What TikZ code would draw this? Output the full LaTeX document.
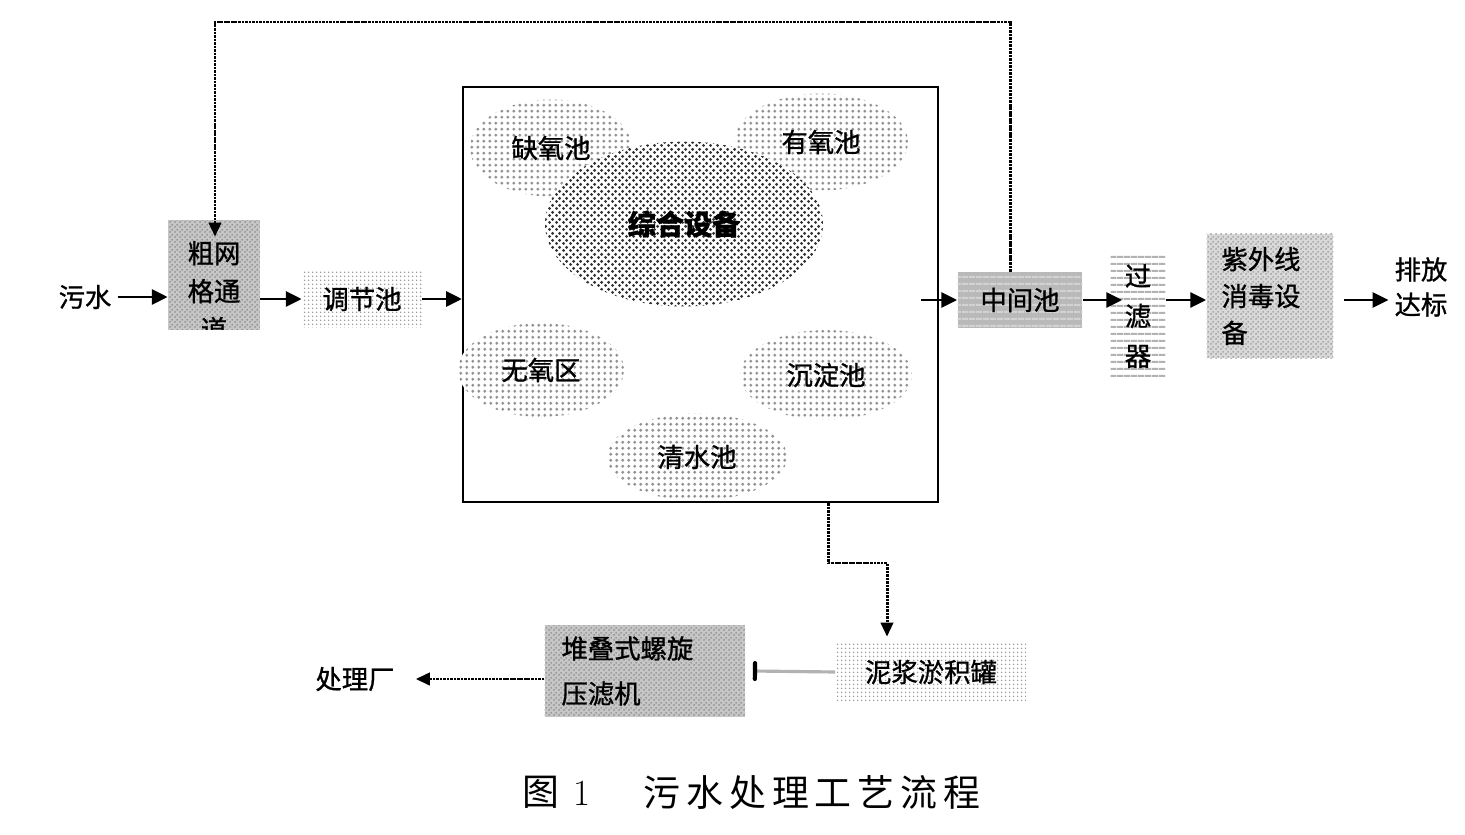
\documentclass[tikz,border=0pt]{standalone}
\usepackage{fontspec}
\newfontfamily\cjk{Noto Sans CJK SC}[FakeBold=1]
\newfontfamily\capcjk{Noto Sans CJK SC}[LetterSpace=16]
\usepackage{tikz}
\usetikzlibrary{positioning, arrows.meta, calc, patterns, patterns.meta, shapes.geometric}

\tikzdeclarepattern{
    name=pooldots,
    bounding box={(0pt,0pt) and (3.3pt,3.3pt)},
    tile size={(3.3pt,3.3pt)},
    code={\fill (1.65pt,1.65pt) circle (.95pt);}
}
\tikzdeclarepattern{
    name=coredots,
    bounding box={(0pt,0pt) and (4pt,4pt)},
    tile size={(4pt,4pt)},
    code={\fill (1pt,1pt) circle (1pt); \fill (3pt,3pt) circle (1pt);}
}
\tikzdeclarepattern{
    name=finegrid,
    bounding box={(0pt,0pt) and (2.3pt,2.3pt)},
    tile size={(2.3pt,2.3pt)},
    code={\fill (1.15pt,1.15pt) circle (.6pt);}
}
\tikzdeclarepattern{
    name=mesh,
    bounding box={(0pt,0pt) and (2.6pt,2.6pt)},
    tile size={(2.6pt,2.6pt)},
    code={\fill (.65pt,.65pt) circle (.6pt); \fill (1.95pt,1.95pt) circle (.6pt);}
}
\tikzdeclarepattern{
    name=rules,
    bounding box={(0pt,0pt) and (4pt,4pt)},
    tile size={(4pt,4pt)},
    code={\fill (0pt,1.4pt) rectangle (4pt,2.6pt);}
}

\tikzset{
    every node/.style={font=\cjk\fontsize{15}{20}\selectfont},
    gridbox/.style={rectangle, align=center, pattern=finegrid, pattern color=gray!75},
    meshbox/.style={rectangle, preaction={fill=gray!45}, pattern=mesh, pattern color=gray!90},
    midbox/.style={rectangle, preaction={fill=gray!55}, pattern=rules, pattern color=gray!35},
    rulebox/.style={rectangle, align=center, pattern=rules, pattern color=gray!60},
    uvbox/.style={rectangle, preaction={fill=gray!30}, pattern=mesh, pattern color=gray!80},
    pool/.style={ellipse, preaction={fill=white}, pattern=pooldots, pattern color=gray!85},
    core/.style={ellipse, preaction={fill=white}, pattern=coredots, pattern color=black!80},
    flow/.style={-{Triangle[length=9pt,width=8.5pt]}, line width=1.7pt},
    recycle/.style={-{Triangle[length=8pt,width=7pt]}, line width=1.7pt, dash pattern=on 1.5pt off .5pt}
}

\begin{document}
\begin{tikzpicture}[x=0.02cm, y=-0.02cm]
    \useasboundingbox (0,0) rectangle (1465,835);

    \node (sewage) at (85,297) {污水};
    \node[meshbox, minimum width=1.84cm, minimum height=2.2cm,
        path picture={\node[align=center, font=\cjk\fontsize{15}{21.6}\selectfont]
            at ([yshift=-0.32cm]path picture bounding box.center) {粗网\\格通\\道};}] (grid) at (214,275) {};
    \node[gridbox, minimum width=2.4cm, minimum height=1.14cm] (buffer) at (362,299) {调节池};
    \node[draw, line width=1.3pt, minimum width=9.5cm, minimum height=8.3cm] (tank) at (700.5,294.5) {};
    \node[pool, minimum width=3.24cm, minimum height=1.94cm] (anoxic) at (551,148) {缺氧池};
    \node[pool, minimum width=3.48cm, minimum height=1.94cm] (oxic) at (821,142) {有氧池};
    \node[core, minimum width=5.56cm, minimum height=3.3cm,
        font=\cjk\bfseries\fontsize{16}{20}\selectfont] (unit) at (684,224) {综合设备};
    \node[pool, minimum width=3.32cm, minimum height=1.88cm] (anaerobic) at (541,370) {无氧区};
    \node[pool, minimum width=3.44cm, minimum height=1.8cm] (settle) at (826,375) {沉淀池};
    \node[pool, minimum width=3.6cm, minimum height=1.74cm] (clear) at (697,457) {清水池};
    \node[midbox, minimum width=2.5cm, minimum height=1.12cm] (middle) at (1020,300) {中间池};
    \node[rulebox, minimum width=1.1cm, minimum height=2.56cm,
        font=\cjk\fontsize{15}{22.7}\selectfont] (filter) at (1138,316) {过\\滤\\器};
    \node[uvbox, align=left, inner xsep=0.3cm, text width=1.94cm, minimum height=2.5cm,
        font=\cjk\fontsize{15}{21}\selectfont] (uv) at (1270,296) {紫外线\\消毒设\\备};
    \node[align=center] (discharge) at (1421,287) {排放\\达标};
    \node[gridbox, minimum width=3.82cm, minimum height=1.2cm] (slurry) at (931,672) {泥浆淤积罐};
    \node[meshbox, align=left, inner xsep=0.34cm, text width=3.34cm, minimum height=1.84cm,
        font=\cjk\fontsize{15}{25.6}\selectfont] (press) at (645,671) {堆叠式螺旋\\压滤机};
    \node (plant) at (355,679) {处理厂};
    \node[font=\capcjk\fontsize{21}{24}\selectfont] (fignum) at (556,792) {图 {\rmfamily 1}};
    \node[font=\capcjk\fontsize{21}{24}\selectfont] (title) at (812,792) {污水处理工艺流程};

    \coordinate (loopR) at (1010,22);
    \coordinate (loopL) at (215,22);
    \coordinate (sludgeA) at (828,563);
    \coordinate (sludgeB) at (887,563);

    \path[flow]
        (sewage) edge (grid.west |- sewage)
        (grid.east |- buffer) edge (buffer)
        (buffer) edge (tank.west |- buffer)
        ($(tank.east |- middle)+(-18,0)$) edge (middle)
        (middle) edge ($(middle.east -| filter.west)+(12,0)$)
        (filter.east |- middle) edge (uv.west |- middle)
        ($(uv.east |- middle)+(10,0)$) edge (discharge.west |- middle)
        ;
    \draw[recycle] (middle.north -| loopR) -- (loopR) -- (loopL) -- ($(grid.north -| loopL)+(0,17)$);
    \draw[recycle] (tank.south -| sludgeA) -- (sludgeA) -- (sludgeB) -- ($(slurry.north -| sludgeB)+(0,-5)$);
    \draw[line width=1.8pt, gray!60, -{Bar[width=9pt,line width=2.4pt,round,color=black]}]
        (slurry.west) -- ([xshift=0.14cm]press.east);
    \draw[recycle, shorten >=0.3cm] (press.west |- plant) -- (plant);
\end{tikzpicture}
\end{document}
